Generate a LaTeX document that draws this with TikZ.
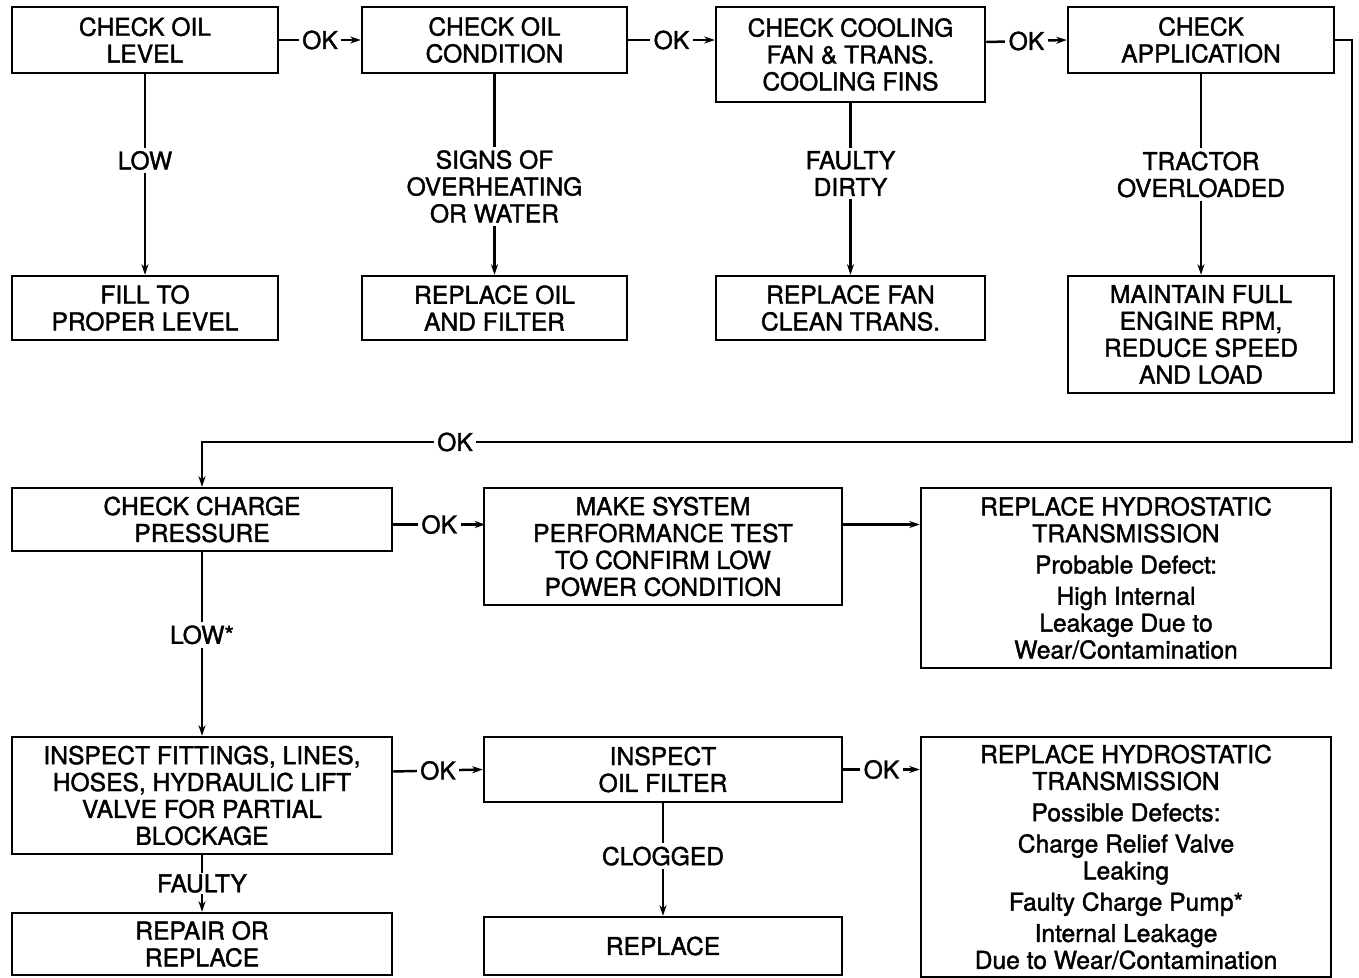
\documentclass[tikz,border=0pt]{standalone}
\usepackage{fontspec}
\setmainfont{TeX Gyre Heros}[FakeBold=1.5]
\usetikzlibrary{arrows.meta}
\def\pu{0.02cm}
\begin{document}
\begin{tikzpicture}[x=0.02cm, y=-0.02cm, line width=1.4pt,
    >={Stealth[length=6pt,width=4pt]},
    every node/.style={font=\fontsize{14}{15.3}\selectfont, align=center},
    box/.style={draw, inner sep=0pt, minimum width=#1*\pu},
    lbl/.style={fill=white, inner sep=2pt}]
    \useasboundingbox (0,0) rectangle (1359,977);

    % first checks
    \node[box=266, minimum height=66*\pu] (level) at (145,40) {CHECK OIL\\LEVEL};
    \node[box=265, minimum height=66*\pu] (cond) at (494.5,40) {CHECK OIL\\CONDITION};
    \node[box=269, minimum height=95*\pu] (fan) at (850.5,54.5) {CHECK COOLING\\FAN \& TRANS.\\COOLING FINS};
    \node[box=266, minimum height=66*\pu] (appl) at (1201,40) {CHECK\\APPLICATION};

    % remedies
    \node[box=266, minimum height=64*\pu] (fill) at (145,308) {FILL TO\\PROPER LEVEL};
    \node[box=265, minimum height=64*\pu] (oil) at (494.5,308) {REPLACE OIL\\AND FILTER};
    \node[box=269, minimum height=64*\pu] (clean) at (850.5,308) {REPLACE FAN\\CLEAN TRANS.};
    \node[box=266, minimum height=117*\pu] (load) at (1201,334.5) {MAINTAIN FULL\\ENGINE RPM,\\REDUCE SPEED\\AND LOAD};

    \draw[->] (level.east) -- node[lbl] {OK} (cond.west);
    \draw[->] (cond.east) -- node[lbl] {OK} (cond.east -| fan.west);
    \draw[->] (fan.west -| fan.east) ++(0,-12.5) -- node[lbl] {OK} (appl.west);
    \draw[->] (level.south) -- node[lbl, pos=0.43] {LOW} (fill.north);
    \draw[->] (cond.south) -- node[lbl, pos=0.56] {SIGNS OF\\OVERHEATING\\OR WATER} (oil.north);
    \draw[->] (fan.south) -- node[lbl, pos=0.41] {FAULTY\\DIRTY} (clean.north);
    \draw[->] (appl.south) -- node[lbl] {TRACTOR\\OVERLOADED} (load.north);

    % charge pressure
    \node[box=380, minimum height=63*\pu] (charge) at (202,519.5) {CHECK CHARGE\\PRESSURE};
    \node[box=358, minimum height=117*\pu] (perf) at (663,546.5) {MAKE SYSTEM\\PERFORMANCE TEST\\TO CONFIRM LOW\\POWER CONDITION};
    \node[box=410, minimum height=180*\pu] (hst1) at (1126,578) {REPLACE HYDROSTATIC\\TRANSMISSION\\[2.5pt]
        Probable Defect:\\[2.5pt] High Internal\\Leakage Due to\\Wear/Contamination};

    \coordinate (loop) at (1352,442);
    \draw[->] (appl.east) -| (loop) -| node[lbl, pos=0.39] {OK} (charge.north);
    \draw[->] (charge.east) ++(0,5) -- node[lbl] {OK} ++(92,0) coordinate (p1);
    \draw[->] (perf.east |- p1) -- (hst1.west |- p1);

    % blockage
    \node[box=380, minimum height=117*\pu] (fit) at (202,795.5) {INSPECT FITTINGS, LINES,\\HOSES, HYDRAULIC LIFT\\VALVE FOR PARTIAL\\BLOCKAGE};
    \node[box=358, minimum height=65*\pu] (filt) at (663,769.5) {INSPECT\\OIL FILTER};
    \node[box=410, minimum height=240*\pu] (hst2) at (1126,857) {REPLACE HYDROSTATIC\\TRANSMISSION\\[2.5pt]
        Possible Defects:\\[2.5pt] Charge Relief Valve\\Leaking\\[2.5pt] Faulty Charge Pump*\\[2.5pt]
        Internal Leakage\\Due to Wear/Contamination};
    \node[box=380, minimum height=62*\pu] (repair) at (202,944) {REPAIR OR\\REPLACE};
    \node[box=358, minimum height=58*\pu] (repl) at (663,946) {REPLACE};

    \draw[->] (charge.south) -- node[lbl, pos=0.45] {LOW*} (fit.north);
    \draw[->] (fit.east) ++(0,-24) -- node[lbl] {OK} (filt.west);
    \draw[->] (filt.east) -- node[lbl] {OK} (filt.east -| hst2.west);
    \draw[->] (fit.south) -- node[lbl, inner sep=1pt] {FAULTY} (repair.north);
    \draw[->] (filt.south) -- node[lbl, pos=0.47] {CLOGGED} (repl.north);
\end{tikzpicture}
\end{document}
